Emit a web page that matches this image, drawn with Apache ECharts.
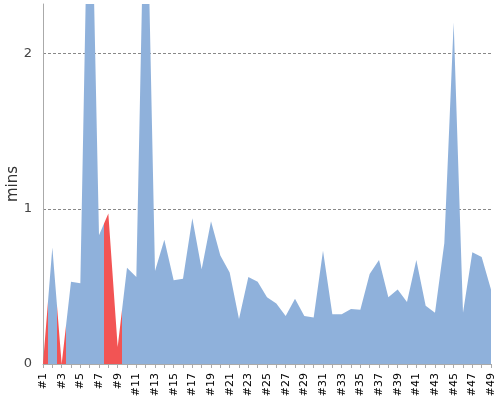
<!DOCTYPE html>
<html>
<head>
<meta charset="utf-8">
<script src="https://cdn.jsdelivr.net/npm/echarts@6/dist/echarts.min.js"></script>
<style>
  html, body { margin: 0; padding: 0; background: #fff; }
  #chart { width: 500px; height: 400px; }
</style>
</head>
<body>
<div id="chart"></div>
<script>
// run labels #1..#49
var categories = [];
for (var n = 1; n <= 49; n++) categories.push('#' + n);

// minutes per run
var values = [
  0, 0.75, 0, 0.53, 0.52, 3.7, 0.83, 0.97, 0.11, 0.62,
  0.56, 3.5, 0.60, 0.80, 0.54, 0.55, 0.94, 0.61, 0.92, 0.70,
  0.59, 0.29, 0.56, 0.53, 0.43, 0.39, 0.31, 0.42, 0.31, 0.30,
  0.73, 0.32, 0.32, 0.355, 0.35, 0.58, 0.67, 0.43, 0.48, 0.40,
  0.67, 0.375, 0.33, 0.78, 2.20, 0.33, 0.72, 0.69, 0.48
];

// runs drawn in red (0-based index)
var redRuns = [0, 2, 7, 8];

var yTicks = [0, 1, 2];

(function(){
    var blue = '#8fb1db', red = '#f25454';
    // one piece per run, colour switches half way between two runs
    // (x is a value axis: a category axis rounds the piece edges to whole runs)
    var pieces = categories.map(function (c, i) {
        return { gte: i - 0.5, lt: i + 0.5, color: redRuns.indexOf(i) >= 0 ? red : blue };
    });
    var points = values.map(function (v, i) { return [i, v]; });

    var myChart = echarts.init(document.getElementById('chart'));
    var option = {
        animation: false,
        grid: { left: 43, right: 9, top: 4, bottom: 36, outerBoundsMode: 'none', containLabel: false },
        visualMap: {
            show: false,
            type: 'piecewise',
            dimension: 0,
            pieces: pieces
        },
        xAxis: {
            type: 'value',
            min: 0,
            max: categories.length - 1,
            interval: 1,
            splitLine: { show: false },
            axisLine: { lineStyle: { color: '#aaa' } },
            axisTick: { show: true, length: 4, lineStyle: { color: '#aaa' } },
            axisLabel: {
                rotate: 90,
                margin: 9,
                color: '#000',
                fontSize: 11,
                fontFamily: 'DejaVu Sans',
                showMinLabel: true,
                showMaxLabel: true,
                hideOverlap: false,
                formatter: function (v) { return v % 2 === 0 ? categories[v] : ''; }
            }
        },
        yAxis: {
            type: 'value',
            offset: 3,
            min: yTicks[0],
            max: 2.32,
            interval: 1,
            name: 'mins',
            nameLocation: 'middle',
            nameRotate: 90,
            nameGap: 19,
            nameMoveOverlap: false,
            nameTextStyle: { fontSize: 15, color: '#333', fontFamily: 'DejaVu Sans' },
            axisLine: { show: true, lineStyle: { color: '#aaa' } },
            axisTick: { show: false },
            axisLabel: {
                margin: 8,
                color: '#444',
                fontSize: 13,
                fontFamily: 'DejaVu Sans',
                showMaxLabel: false,
                formatter: function (v) { return yTicks.indexOf(v) >= 0 ? v : ''; }
            },
            splitLine: {
                show: true,
                showMinLine: false,
                showMaxLine: false,
                lineStyle: { color: '#888', type: [3, 2], width: 1 }
            }
        },
        series: [{
            type: 'line',
            data: points,
            showSymbol: false,
            clip: true,
            lineStyle: { width: 0 },
            areaStyle: { opacity: 1 }
        }]
    };
    myChart.setOption(option);
})();
</script>
</body>
</html>
